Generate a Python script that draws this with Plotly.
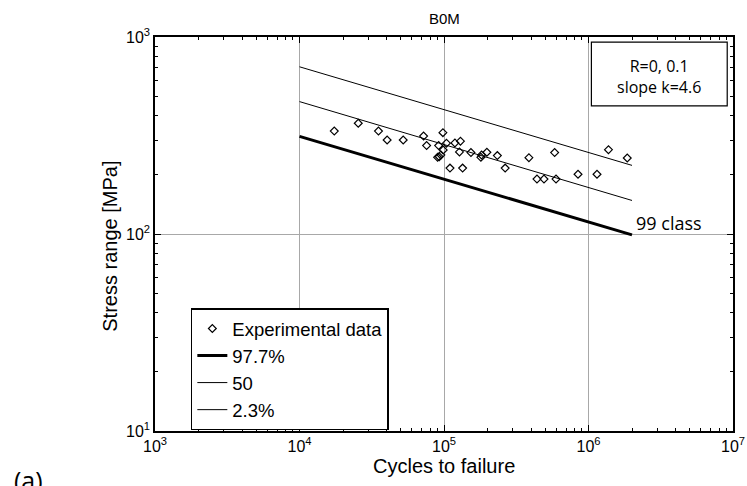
import plotly.graph_objects as go

# Experimental data (cycles, stress range MPa)
N_exp = [17400, 25500, 35200, 40400, 52200, 72200, 75800, 91800, 98300, 90300,
         92700, 95200, 98700, 104000, 119000, 130000, 128000, 110000, 134500, 153600,
         182000, 180000, 198000, 234000, 265000, 387000, 440000, 492000, 583000, 596000,
         846000, 1145000, 1375000, 1854000]
S_exp = [333, 365, 333, 300, 300, 314, 281, 281, 327, 245,
         247, 252, 267, 289, 290, 296, 261, 216, 216, 259,
         252, 245, 260, 250, 216, 244, 190, 190, 259, 190,
         201, 201, 268, 243]

# Design curves (slope k=4.6)
N_line = [1e4, 2e6]
S_977 = [313, 99]
S_50 = [470, 148]
S_23 = [706, 223]

# Tick labels
x_tickvals = [1e3, 1e4, 1e5, 1e6, 1e7]
x_ticktext = ["10<sup>3</sup>", "10<sup>4</sup>", "10<sup>5</sup>", "10<sup>6</sup>", "10<sup>7</sup>"]
y_tickvals = [1e1, 1e2, 1e3]
y_ticktext = ["10<sup>1</sup>", "10<sup>2</sup>", "10<sup>3</sup>"]

FONT = "Liberation Sans"
fig = go.Figure()
fig.add_trace(go.Scatter(x=N_exp, y=S_exp, mode="markers", name="Experimental data",
                         marker=dict(symbol="diamond-open", size=6, color="black",
                                     line=dict(width=1.2, color="black"))))
fig.add_trace(go.Scatter(x=N_line, y=S_977, mode="lines", name="97.7%",
                         line=dict(color="black", width=3)))
fig.add_trace(go.Scatter(x=N_line, y=S_50, mode="lines", name="50",
                         line=dict(color="black", width=1)))
fig.add_trace(go.Scatter(x=N_line, y=S_23, mode="lines", name="2.3%",
                         line=dict(color="black", width=1)))
# invisible trace to hold mirrored (top/right) axes
fig.add_trace(go.Scatter(x=N_line, y=S_50, xaxis="x2", yaxis="y2", mode="lines",
                         line=dict(width=0, color="rgba(0,0,0,0)"), showlegend=False,
                         hoverinfo="skip"))

minor = dict(ticks="inside", ticklen=3, tickcolor="black", showgrid=False, dtick="D1")
base = dict(type="log", ticks="inside", ticklen=6, tickcolor="black", zeroline=False,
            automargin=False, minor=minor)

fig.update_layout(
    xaxis=dict(range=[3, 7], tickvals=x_tickvals, ticktext=x_ticktext, showgrid=True,
               gridcolor="#a8a8a8", gridwidth=1, showline=True, linecolor="black", linewidth=1.5,
               tickfont=dict(size=16, family=FONT, color="black"), **base),
    yaxis=dict(range=[1, 3], tickvals=y_tickvals, ticktext=y_ticktext, showgrid=True,
               gridcolor="#a8a8a8", gridwidth=1, showline=True, linecolor="black", linewidth=1.5,
               tickfont=dict(size=16, family=FONT, color="black"), **base),
    xaxis2=dict(range=[3, 7], overlaying="x", side="top", anchor="y2", tickvals=x_tickvals,
                showticklabels=False, showgrid=False, showline=True, linecolor="black",
                linewidth=1.5, **base),
    yaxis2=dict(range=[1, 3], overlaying="y", side="right", anchor="x2", tickvals=y_tickvals,
                showticklabels=False, showgrid=False, showline=True, linecolor="black",
                linewidth=1.5, **base),
)

fig.add_shape(type="rect", xref="paper", yref="paper", x0=0.755, x1=0.990, y0=0.825, y1=0.987,
              line=dict(color="black", width=1.2), fillcolor="white", layer="above")

fig.update_layout(
    width=747, height=486,
    margin=dict(l=155, r=14, t=37, b=55),
    paper_bgcolor="white", plot_bgcolor="white",
    showlegend=True,
    legend=dict(x=0.062, y=0.311, xanchor="left", yanchor="top",
                bordercolor="black", borderwidth=1.5, bgcolor="white",
                font=dict(size=18.5, family=FONT, color="black"), tracegroupgap=0),
    annotations=[
        dict(text="B0M", xref="paper", yref="paper", x=0.5, y=1.0, yshift=19,
             showarrow=False, font=dict(size=15, family=FONT, color="black"), yanchor="middle"),
        dict(text="R=0, 0.1<br>slope k=4.6", xref="paper", yref="paper", x=0.8725, y=0.9005,
             showarrow=False, font=dict(size=16, family="Open Sans", color="black"),
             xanchor="center", yanchor="middle"),
        dict(text="99 class", x=6.301, y=2.0, xref="x", yref="y", xanchor="left", yanchor="bottom",
             xshift=2, yshift=-3, showarrow=False, font=dict(size=18, family="Open Sans", color="black")),
        dict(text="Cycles to failure", xref="paper", yref="paper", x=0.5, y=-0.089,
             showarrow=False, font=dict(size=20, family=FONT, color="black"), yanchor="middle"),
        dict(text="Stress range [MPa]", xref="paper", yref="paper", x=-0.078, y=0.47,
             textangle=-90, showarrow=False, font=dict(size=20, family=FONT, color="black"),
             xanchor="center", yanchor="middle"),
        dict(text="(a)", xref="paper", yref="paper", x=-0.247, y=-0.099, xanchor="left", yanchor="top",
             yshift=9, showarrow=False, font=dict(size=25, family="Open Sans", color="black")),
    ],
)
fig.write_html("out.html", config={"displayModeBar": False},
               post_script="document.body.style.margin='0';")
